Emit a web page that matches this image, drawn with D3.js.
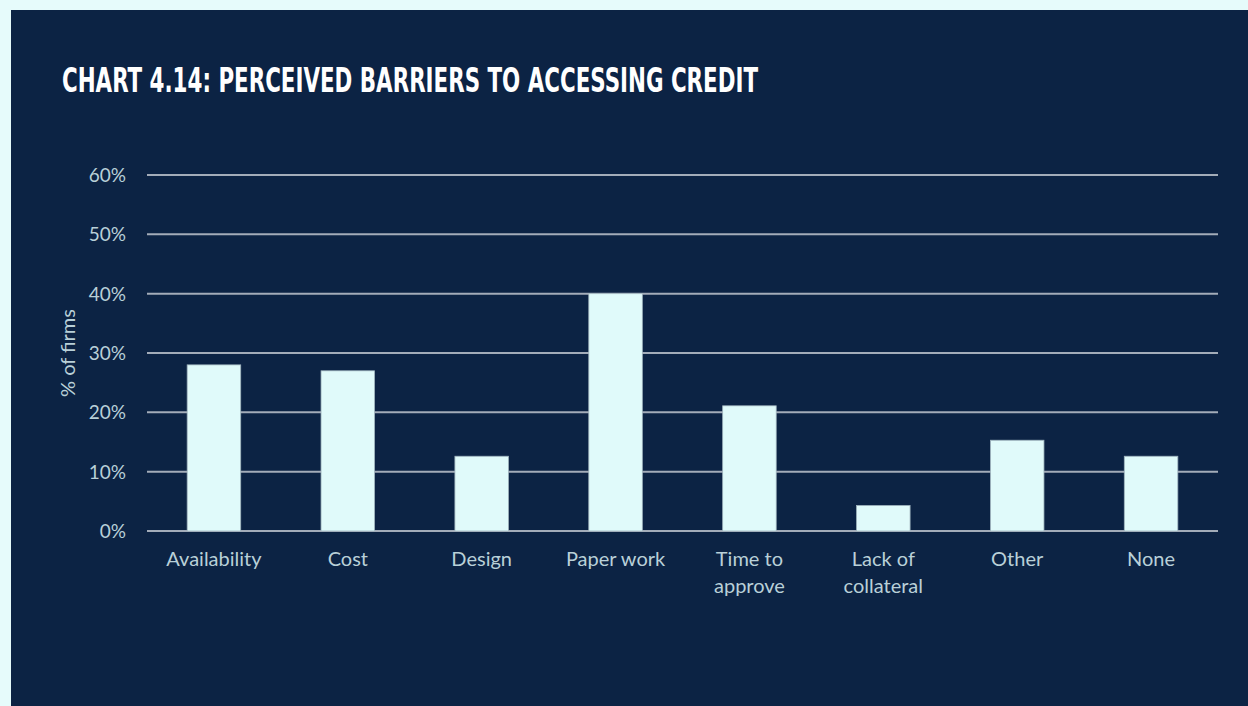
<!DOCTYPE html>
<html>
<head>
<meta charset="utf-8">
<script src="https://cdn.jsdelivr.net/npm/d3@7"></script>
<style>
  body { margin: 0; background: #e6fbfb; }
  svg { display: block; }
</style>
</head>
<body>
<div id="chart"></div>
<script>
var categories = ['Availability', 'Cost', 'Design', 'Paper work', 'Time to approve', 'Lack of collateral', 'Other', 'None'];
var labelLines = [['Availability'], ['Cost'], ['Design'], ['Paper work'], ['Time to', 'approve'], ['Lack of', 'collateral'], ['Other'], ['None']];
var values = [28.0, 27.0, 12.6, 40.0, 21.1, 4.3, 15.3, 12.6];
var yTicks = [0, 10, 20, 30, 40, 50, 60];

var width = 1248, height = 706;
var margin = {left: 147, right: 30, top: 175, bottom: 175};

var svg = d3.select('#chart').append('svg')
    .attr('width', width)
    .attr('height', height);

svg.append('rect')
    .attr('x', 11).attr('y', 10)
    .attr('width', width - 11).attr('height', height - 10)
    .attr('fill', '#0c2344');

svg.append('text')
    .attr('x', 62).attr('y', 92)
    .attr('fill', '#ffffff')
    .style('font-family', '"DejaVu Sans Condensed", "Liberation Sans Narrow", sans-serif')
    .style('font-weight', 'bold')
    .style('font-size', '34px')
    .attr('textLength', 696)
    .attr('lengthAdjust', 'spacingAndGlyphs')
    .text('CHART 4.14: PERCEIVED BARRIERS TO ACCESSING CREDIT');

var x = d3.scaleBand()
    .domain(categories)
    .range([margin.left, 1218])
    .paddingInner(0.6)
    .paddingOuter(0.3);

var y = d3.scaleLinear()
    .domain([0, 60])
    .range([531, 175]);

var font = 'Lato, "Open Sans", sans-serif';
var labelColor = '#b9d0d8';

// gridlines
svg.append('g')
  .selectAll('line')
  .data(yTicks)
  .enter().append('line')
    .attr('x1', margin.left)
    .attr('x2', 1218)
    .attr('y1', function(d) { return y(d); })
    .attr('y2', function(d) { return y(d); })
    .attr('stroke', '#a3acb9')
    .attr('stroke-width', 2);

svg.append('g')
  .selectAll('text')
  .data(yTicks)
  .enter().append('text')
    .attr('x', 126)
    .attr('y', function(d) { return y(d); })
    .attr('dy', '0.36em')
    .attr('text-anchor', 'end')
    .attr('fill', labelColor)
    .style('font-family', font)
    .style('font-size', '19px')
    .text(function(d) { return d + '%'; });

svg.append('text')
    .attr('transform', 'translate(75,' + y(30) + ') rotate(-90)')
    .attr('text-anchor', 'middle')
    .attr('fill', labelColor)
    .style('font-family', font)
    .style('font-size', '20px')
    .text('% of firms');

// bars
svg.append('g')
  .selectAll('rect')
  .data(values)
  .enter().append('rect')
    .attr('x', function(d, i) { return x(categories[i]); })
    .attr('y', function(d) { return y(d); })
    .attr('width', x.bandwidth())
    .attr('height', function(d) { return y(0) - y(d); })
    .attr('fill', '#e0fafa')
    .attr('stroke', '#9fb3bd')
    .attr('stroke-width', 0.8);

// category labels
var lbl = svg.append('g')
  .selectAll('text')
  .data(labelLines)
  .enter().append('text')
    .attr('text-anchor', 'middle')
    .attr('fill', labelColor)
    .style('font-family', font)
    .style('font-size', '20px');

lbl.selectAll('tspan')
    .data(function(d, i) { return d.map(function(t) { return {t: t, i: i}; }); })
    .enter().append('tspan')
    .attr('x', function(d) { return x(categories[d.i]) + x.bandwidth() / 2; })
    .attr('y', function(d, j) { return 566 + j * 27; })
    .text(function(d) { return d.t; });
</script>
</body>
</html>
